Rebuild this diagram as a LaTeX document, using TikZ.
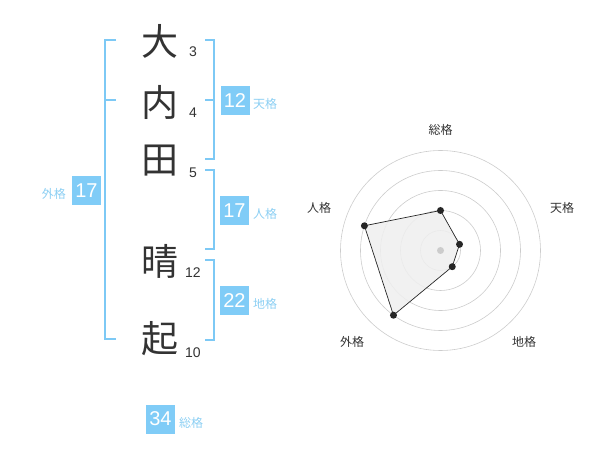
\documentclass[tikz,border=0pt]{standalone}
\usepackage{fontspec}
\setmainfont{Liberation Sans}
\newfontfamily\jp{Noto Sans CJK JP}
\definecolor{ink}{HTML}{333333}
\definecolor{skyline}{HTML}{7DC9F5}
\definecolor{skybox}{HTML}{80CCF7}
\definecolor{skytext}{HTML}{8CCFF3}
\definecolor{ringgray}{HTML}{CCCCCC}
\definecolor{areafill}{HTML}{EFEFEF}
\tikzset{
  kanji/.style={text=ink, font=\jp\fontsize{37}{37}\selectfont, inner sep=0pt},
  strokenum/.style={text=ink, font=\fontsize{14}{14}\selectfont, inner sep=0pt},
  bracketline/.style={draw=skyline, line width=1.8pt},
  scorebox/.style={fill=skybox, text=white, minimum width=29pt, minimum height=29pt, inner sep=0pt, font=\fontsize{20}{20}\selectfont},
  scorelabel/.style={text=skytext, font=\jp\fontsize{12}{12}\selectfont, inner sep=0pt},
  ring/.style={draw=ringgray, line width=0.6pt},
  axislabel/.style={text=ink, font=\jp\fontsize{12}{12}\selectfont, inner sep=0pt},
  dot/.style={circle, fill=black!85, inner sep=0pt, minimum size=7pt},
}
\begin{document}
\begin{tikzpicture}[x=1pt, y=-1pt]
\useasboundingbox (0,0) rectangle (600,470);
% characters
\node[kanji] (c1) at (160,41) {大};
\node[kanji] (c2) at (160,102) {内};
\node[kanji] (c3) at (160,161) {田};
\node[kanji] (c4) at (160,261) {晴};
\node[kanji] (c5) at (160,339) {起};
\node[strokenum] (n1) at (193,52) {3};
\node[strokenum] (n2) at (193,113) {4};
\node[strokenum] (n3) at (193,173) {5};
\node[strokenum] (n4) at (193,273) {12};
\node[strokenum] (n5) at (193,353) {10};
% left bracket (外格)
\draw[bracketline] (116,40) -- (105,40) -- (105,339) -- (116,339);
\draw[bracketline] (105,100) -- (116,100);
% right brackets
\draw[bracketline] (205,40) -- (214,40) -- (214,159) -- (205,159);
\draw[bracketline] (205,100) -- (214,100);
\draw[bracketline] (205,170) -- (214,170) -- (214,249) -- (205,249);
\draw[bracketline] (205,260) -- (214,260) -- (214,340) -- (205,340);
% score boxes
\node[scorebox] (ten) at (235,100.5) {12};
\node[scorelabel, anchor=west] (tenl) at (253,104) {天格};
\node[scorebox] (jin) at (234.5,210.5) {17};
\node[scorelabel, anchor=west] (jinl) at (253,214) {人格};
\node[scorebox] (chi) at (234.5,300.5) {22};
\node[scorelabel, anchor=west] (chil) at (253,304) {地格};
\node[scorebox] (gai) at (86.5,190.5) {17};
\node[scorelabel, anchor=east] (gail) at (66,194) {外格};
\node[scorebox] (sou) at (160.5,419) {34};
\node[scorelabel, anchor=west] (soul) at (179,422.5) {総格};
% radar chart
\coordinate (ctr) at (440.5,250.5);
\begin{scope}[shift={(ctr)}, yscale=-1]
  \foreach \r in {20,40,60,80,100} \draw[ring] (0,0) circle (\r);
  \coordinate (pS) at (90:40);
  \coordinate (pT) at (18:20);
  \coordinate (pC) at (-54:20);
  \coordinate (pG) at (-126:80);
  \coordinate (pJ) at (162:80);
  \filldraw[fill=areafill, fill opacity=0.85, draw=black!85, line width=0.7pt] (pS) -- (pT) -- (pC) -- (pG) -- (pJ) -- cycle;
  \fill[ringgray] (0,0) circle (3.5);
  \foreach \p in {pS,pT,pC,pG,pJ} \node[dot] at (\p) {};
\end{scope}
\node[axislabel] (aS) at (440.5,130) {総格};
\node[axislabel] (aT) at (562,208) {天格};
\node[axislabel] (aC) at (524,342) {地格};
\node[axislabel] (aG) at (352,342) {外格};
\node[axislabel] (aJ) at (319,208) {人格};
\end{tikzpicture}
\end{document}
